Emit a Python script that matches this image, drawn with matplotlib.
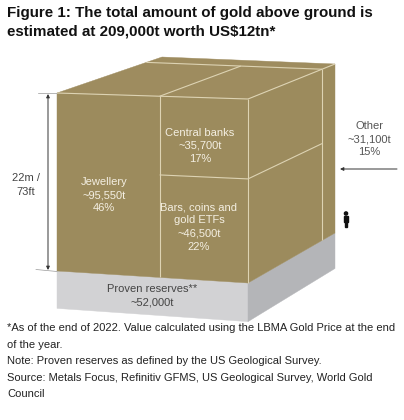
import matplotlib
matplotlib.use("Agg")
import matplotlib.pyplot as plt
from matplotlib.patches import Polygon, Circle, Rectangle
import numpy as np

# ---- data ----
total_t = 209000
segments = ["Jewellery", "Central banks", "Bars, coins and\ngold ETFs", "Other"]
tonnes = [95550, 35700, 46500, 31100]
pct = [46, 17, 22, 15]
reserves_t = 52000
height_label = ["22m /", "73ft"]
title_lines = ["Figure 1: The total amount of gold above ground is",
               "estimated at 209,000t worth US$12tn*"]
notes = ["*As of the end of 2022. Value calculated using the LBMA Gold Price at the end",
         "of the year.",
         "Note: Proven reserves as defined by the US Geological Survey.",
         "Source: Metals Focus, Refinitiv GFMS, US Geological Survey, World Gold",
         "Council"]

GOLD = "#9C8B5D"
GOLD_TOP = "#9E8C5F"
LINE = "#DDD3B3"
GRAY_F = "#D2D2D4"
GRAY_R = "#B4B5B8"
TXT_IN = "#F4EFE2"

fig = plt.figure(figsize=(4.04, 4.20), dpi=100)
ax = fig.add_axes([0, 0, 1, 1])
ax.set_xlim(0, 404)
ax.set_ylim(420, 0)
ax.axis("off")

# ---- projection (layout) ----
top = {"FL": (57, 93), "FR": (248, 99), "BR": (335, 64), "BL": (162, 57)}
bot = {"FL": (57, 271), "FR": (248, 283), "BR": (335, 233), "BL": (162, 220)}
SLAB = 0.21  # visual slab thickness as fraction of gold height


def bil(c, u, v):
    fl, fr, br, bl = [np.array(c[k], float) for k in ("FL", "FR", "BR", "BL")]
    f = fl + (fr - fl) * u
    b = bl + (br - bl) * u
    return f + (b - f) * v


def P(u, v, h):
    t = bil(top, u, v)
    b = bil(bot, u, v)
    return b + (t - b) * h


def poly(pts, color, z=1):
    ax.add_patch(Polygon(pts, closed=True, facecolor=color, edgecolor=color,
                         lw=0.3, zorder=z))


def line(p, q, z=3):
    ax.plot([p[0], q[0]], [p[1], q[1]], color=LINE, lw=0.8, zorder=z,
            solid_capstyle="butt")


jew, cb, bars, other = tonnes
above = jew + cb + bars
uj = jew / above
v_o = 1 - other / sum(tonnes)
h_c = 1 - cb / (cb + bars)

# gray slab
poly([P(0, 0, 0), P(1, 0, 0), P(1, 0, -SLAB), P(0, 0, -SLAB)], GRAY_F)
poly([P(1, 0, 0), P(1, 1, 0), P(1, 1, -SLAB), P(1, 0, -SLAB)], GRAY_R)
# gold faces
poly([P(0, 0, 0), P(1, 0, 0), P(1, 0, 1), P(0, 0, 1)], GOLD)
poly([P(1, 0, 0), P(1, 1, 0), P(1, 1, 1), P(1, 0, 1)], GOLD)
poly([P(0, 0, 1), P(1, 0, 1), P(1, 1, 1), P(0, 1, 1)], GOLD_TOP)

# edges and dividers
line(P(0, 0, 1), P(1, 0, 1))
line(P(1, 0, 1), P(1, 0, 0))
line(P(1, 0, 1), P(1, 1, 1))
line(P(uj, 0, 1), P(uj, 0, 0))
line(P(uj, 0, 1), P(uj, v_o, 1))
line(P(0, v_o, 1), P(1, v_o, 1))
line(P(1, v_o, 1), P(1, v_o, 0))
line(P(uj, 0, h_c), P(1, 0, h_c))
line(P(1, 0, h_c), P(1, v_o, h_c))

FS = 8.0
fam = "Liberation Sans"


def label(x, y, s, color, size=FS, ha="center"):
    ax.text(x, y, s, color=color, fontsize=size, family=fam, ha=ha,
            va="center", linespacing=1.38, zorder=5)


def fmt(t):
    return "~{:,}t".format(t)


label(104, 195, f"{segments[0]}\n{fmt(jew)}\n{pct[0]}%", TXT_IN)
label(200, 146, f"{segments[1]}\n{fmt(cb)}\n{pct[1]}%", TXT_IN)
label(199, 227, f"{segments[2]}\n{fmt(bars)}\n{pct[2]}%", TXT_IN)
label(369, 139, f"{segments[3]}\n{fmt(other)}\n{pct[3]}%", "#555555")
label(152, 296, f"Proven reserves**\n{fmt(reserves_t)}", "#444444")
label(26, 185, "\n".join(height_label), "#444444")

# height arrow
ax.annotate("", xy=(48, 94), xytext=(48, 270),
            arrowprops=dict(arrowstyle="<|-|>", color="#333333", lw=0.7,
                            mutation_scale=5, shrinkA=0, shrinkB=0))
ax.plot([38, 57], [93, 93], color="#999999", lw=0.5)
ax.plot([36, 57], [269.5, 271.5], color="#999999", lw=0.5)

# other arrow
ax.annotate("", xy=(340, 169), xytext=(397, 169),
            arrowprops=dict(arrowstyle="-|>", color="#333333", lw=0.7,
                            mutation_scale=5, shrinkA=0, shrinkB=0))

# person icon
ax.add_patch(Circle((346, 213.5), 1.6, color="#111111", zorder=5))
ax.add_patch(Rectangle((343.8, 215.6), 4.4, 6.0, color="#111111", zorder=5))
ax.add_patch(Rectangle((344.6, 221), 2.8, 6.2, color="#111111", zorder=5))

# title
for i, s in enumerate(title_lines):
    ax.text(7, 13 + i * 19, s, fontsize=10.9, fontweight="bold", family=fam,
            color="#111111", va="center", ha="left")

# notes
ys = [328, 345, 361, 378, 394]
for y, s in zip(ys, notes):
    ax.text(7, y, s, fontsize=8.0, family=fam, color="#222222",
            va="center", ha="left")

fig.savefig("out.png", dpi=100)
